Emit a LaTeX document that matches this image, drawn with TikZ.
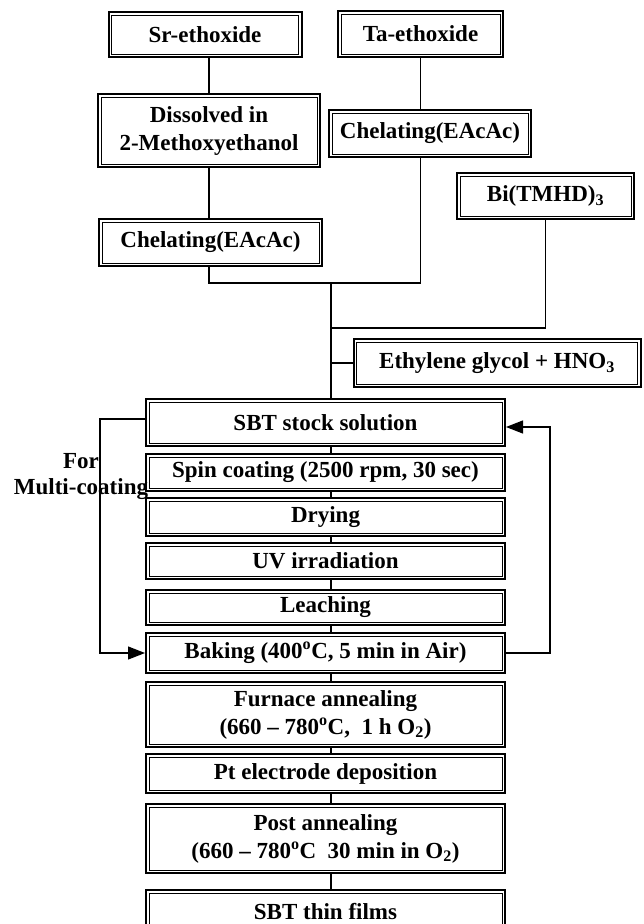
\documentclass[tikz,border=0pt]{standalone}
\usepackage{fontspec}
\setmainfont{Liberation Serif}
\usetikzlibrary{arrows.meta}
\tikzset{
  dbox/.style={draw, line width=2pt, fill=white, inner sep=0pt, align=center,
    font=\fontsize{23}{28}\selectfont\bfseries,
    path picture={\draw[line width=1pt] ([shift={(3pt,-3pt)}]path picture bounding box.north west) rectangle ([shift={(-3pt,3pt)}]path picture bounding box.south east);}},
  stackbox/.style={dbox, minimum width=359pt},
  conn/.style={line width=1.2pt},
  arr/.style={conn, -{Triangle[length=17pt,width=13pt]}},
  lbl/.style={align=center, inner sep=0pt, font=\fontsize{23}{26}\selectfont\bfseries},
}
\begin{document}
\begin{tikzpicture}[x=1pt,y=-1pt]
\useasboundingbox (0,0) rectangle (643,924);
% top boxes
\node[dbox, minimum width=193pt, minimum height=45pt] (sr) at (205,34.5) {Sr-ethoxide};
\node[dbox, minimum width=165pt, minimum height=46pt] (ta) at (420.5,34) {Ta-ethoxide};
\node[dbox, minimum width=222pt, minimum height=73pt] (dis) at (209,130.5) {Dissolved in\\2-Methoxyethanol};
\node[dbox, minimum width=202pt, minimum height=47pt] (cta) at (430,133.5) {Chelating(EAcAc)};
\node[dbox, minimum width=177pt, minimum height=46pt] (bi) at (545.5,196) {Bi(TMHD)\textsubscript{3}};
\node[dbox, minimum width=223pt, minimum height=47pt] (csr) at (210.5,242.5) {Chelating(EAcAc)};
\node[dbox, minimum width=287pt, minimum height=48pt] (eg) at (497,363) {Ethylene glycol + HNO\textsubscript{3}};
% process stack
\node[stackbox, minimum height=47pt] (stock) at (325.5,422.5) {SBT stock solution};
\node[stackbox, minimum height=37pt] (spin) at (325.5,472.5) {Spin coating (2500 rpm, 30 sec)};
\node[stackbox, minimum height=38pt] (dry) at (325.5,517) {Drying};
\node[stackbox, minimum height=36pt] (uv) at (325.5,561) {UV irradiation};
\node[stackbox, minimum height=35pt] (leach) at (325.5,607.5) {Leaching};
\node[stackbox, minimum height=40pt] (bake) at (325.5,653) {Baking (400\textsuperscript{o}C, 5 min in Air)};
\node[stackbox, minimum height=65pt] (furn) at (325.5,714.5) {Furnace annealing\\(660 -- 780\textsuperscript{o}C,\ \ 1 h\ O\textsubscript{2})};
\node[stackbox, minimum height=39pt] (pt) at (325.5,773.5) {Pt electrode deposition};
\node[stackbox, minimum height=69pt] (post) at (325.5,838.5) {Post annealing\\(660 -- 780\textsuperscript{o}C\ \ 30\ min in O\textsubscript{2})};
\node[stackbox, minimum height=44pt] (film) at (325.5,912) {SBT thin films};
% merge coordinates
\coordinate (m1) at (331,283);
\coordinate (m2) at (331,328);
% connectors
\draw[conn] (sr.south -| dis.north) -- (dis.north);
\draw[conn] (dis.south) -- (dis.south |- csr.north);
\draw[conn] (ta.south) -- (ta.south |- cta.north);
\draw[conn] (cta.south -| ta.south) -- (ta.south |- m1) -- (m1) -- (m1 -| dis.south) -- (dis.south |- csr.south);
\draw[conn] (m1) -- (m1 |- stock.north);
\draw[conn] (bi.south) -- (bi.south |- m2) -- (m2);
\draw[conn] (eg.west -| m1) -- (eg.west);
\foreach \a/\b in {stock/spin, spin/dry, dry/uv, uv/leach, leach/bake, bake/furn, furn/pt, pt/post, post/film}
  \draw[conn] (\a.south -| m1) -- (\b.north -| m1);
% multi-coating loops
\draw[arr] ([yshift=3.5pt]stock.west) -- ++(-45,0) |- (bake.west);
\draw[arr] (bake.east) -- ++(44,0) |- ([yshift=-4.5pt]stock.east);
\node[lbl] (lab) at (81,477) {For\\Multi-coating};
\end{tikzpicture}
\end{document}
